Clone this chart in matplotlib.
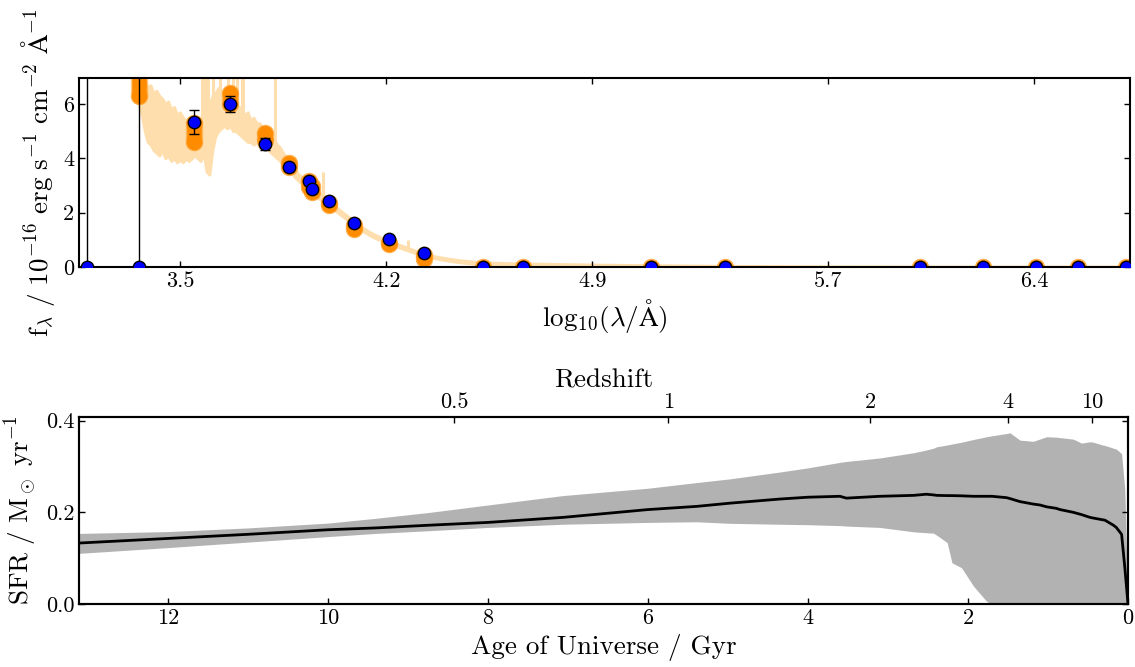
import numpy as np
import matplotlib
matplotlib.use("Agg")
import matplotlib.pyplot as plt

plt.rcParams["font.family"] = "serif"
plt.rcParams["font.serif"] = ["cmr10", "DejaVu Serif"]
plt.rcParams["mathtext.fontset"] = "cm"
plt.rcParams["axes.unicode_minus"] = False
plt.rcParams["axes.formatter.use_mathtext"] = True
plt.rcParams["axes.linewidth"] = 1.5

# ---------------- photometry (log10 wavelength, flux, error) ----------------
phot_logwav = [3.185, 3.360, 3.549, 3.670, 3.789, 3.871, 3.939, 3.949, 4.005, 4.092,
               4.211, 4.330, 4.528, 4.664, 5.101, 5.350, 6.013, 6.226, 6.406, 6.549, 6.712]
phot_flux = [0.0, 0.0, 5.33, 6.01, 4.53, 3.69, 3.18, 2.87, 2.43, 1.62,
             1.02, 0.52, 0.0, 0.0, 0.0, 0.0, 0.0, 0.0, 0.0, 0.0, 0.0]
phot_err = [100.0, 100.0, 0.44, 0.30, 0.23, 0.15, 0.10, 0.15, 0.08, 0.06,
            0.04, 0.03, 0.0, 0.0, 0.0, 0.0, 0.0, 0.0, 0.0, 0.0, 0.0]

# posterior model photometry range per band (first band off the plot)
model_logwav = phot_logwav[1:]
model_lo = [6.3, 4.6, 6.0, 4.66, 3.68, 2.95, 2.78, 2.27, 1.41, 0.85, 0.30, 0.0, 0.0,
            0.0, 0.0, 0.0, 0.0, 0.0, 0.0, 0.0]
model_hi = [8.5, 5.3, 6.41, 4.94, 3.83, 3.16, 3.0, 2.36, 1.56, 0.89, 0.45, 0.0, 0.0,
            0.0, 0.0, 0.0, 0.0, 0.0, 0.0, 0.0]

# posterior spectrum band
spec_logwav = [3.35, 3.37, 3.38, 3.39, 3.40, 3.41, 3.42, 3.43, 3.44, 3.45, 3.46, 3.47,
               3.48, 3.49, 3.50, 3.51, 3.52, 3.53, 3.54, 3.55, 3.56, 3.57, 3.58, 3.59,
               3.60, 3.61, 3.62, 3.63, 3.64, 3.65, 3.66, 3.67, 3.68, 3.69, 3.70, 3.71,
               3.72, 3.73, 3.74, 3.75, 3.76, 3.77, 3.78, 3.79, 3.80, 3.81, 3.82, 3.83,
               3.84, 3.85, 3.86, 3.87, 3.88, 3.89, 3.90, 3.92, 3.94, 3.96, 3.98, 4.00,
               4.03, 4.06, 4.09, 4.12, 4.15, 4.18, 4.21, 4.24, 4.27, 4.30, 4.33, 4.36,
               4.40, 4.45, 4.50, 4.55, 4.60, 4.70, 4.80, 5.0, 5.3, 5.6, 6.0, 6.4, 6.72]
spec_hi = [7.8, 7.2, 6.9, 6.6, 6.7, 6.4, 6.5, 6.3, 6.2, 6.0, 6.1, 5.8,
           5.9, 5.6, 5.7, 5.5, 5.4, 5.5, 5.2, 5.4, 5.5, 5.3, 5.9, 5.2,
           6.0, 6.3, 6.4, 6.6, 6.5, 6.3, 6.2, 6.3, 6.1, 6.0, 5.9, 5.8,
           5.6, 5.7, 5.4, 5.5, 5.3, 5.3, 5.1, 5.0, 4.9, 4.8, 4.7, 4.5,
           4.4, 4.2, 4.05, 3.9, 3.75, 3.6, 3.45, 3.25, 3.05, 2.85, 2.65, 2.5,
           2.2, 1.95, 1.7, 1.45, 1.25, 1.1, 0.96, 0.84, 0.72, 0.6, 0.49, 0.41,
           0.33, 0.25, 0.2, 0.17, 0.15, 0.13, 0.11, 0.08, 0.05, 0.03, 0.02, 0.02, 0.02]
spec_lo = [6.4, 5.6, 5.0, 4.6, 4.5, 4.3, 4.2, 4.1, 4.3, 4.0, 4.1, 3.9,
           4.0, 3.85, 3.95, 3.85, 4.0, 3.9, 4.0, 4.1, 4.0, 3.9, 4.2, 3.5,
           3.4, 4.3, 4.8, 5.0, 5.1, 5.2, 5.1, 5.2, 5.0, 5.0, 4.9, 4.8,
           4.7, 4.6, 4.6, 4.5, 4.6, 4.4, 4.5, 4.4, 4.3, 4.2, 4.1, 4.0,
           3.9, 3.75, 3.65, 3.55, 3.45, 3.3, 3.2, 3.0, 2.8, 2.62, 2.45, 2.3,
           2.05, 1.8, 1.55, 1.32, 1.13, 0.98, 0.86, 0.73, 0.62, 0.51, 0.41, 0.33,
           0.25, 0.17, 0.11, 0.09, 0.07, 0.05, 0.04, 0.02, 0.01, 0.0, 0.0, 0.0, 0.0]

# emission line spikes in the spectrum
spike_logwav = [3.574, 3.585, 3.596, 3.613, 3.636, 3.664, 3.681, 3.692, 3.709, 3.715,
                3.823, 3.987, 4.275]
spike_base = [5.0, 4.0, 4.5, 5.5, 5.5, 6.0, 5.8, 5.5, 5.3, 5.3, 4.2, 2.6, 0.65]
spike_top = [8.0, 8.0, 8.0, 8.0, 8.0, 8.0, 8.0, 8.0, 8.0, 8.0, 8.0, 3.5, 1.0]

wav_ticks = [3.5, 4.2, 4.9, 5.7, 6.4]

# ---------------- star formation history ----------------
sfh_age = [13.11, 12.0, 11.0, 10.0, 9.4, 8.725, 8.0, 7.06, 6.0, 5.39, 4.975, 4.35,
           4.0, 3.6, 3.52, 3.1, 2.68, 2.52, 2.43, 2.39, 2.26, 2.2, 2.08, 1.93,
           1.767, 1.7, 1.517, 1.475, 1.35, 1.183, 1.1, 1.017, 0.896, 0.85, 0.683,
           0.58, 0.475, 0.433, 0.31, 0.29, 0.183, 0.146, 0.08, 0.04, 0.0]
sfh_med = [0.133, 0.143, 0.152, 0.162, 0.166, 0.172, 0.178, 0.189, 0.206, 0.213, 0.220, 0.229,
           0.233, 0.235, 0.231, 0.235, 0.237, 0.2395, 0.238, 0.237, 0.2365, 0.2365, 0.236, 0.235,
           0.235, 0.235, 0.232, 0.230, 0.2234, 0.218, 0.216, 0.212, 0.2087, 0.206, 0.200,
           0.195, 0.189, 0.1875, 0.1835, 0.183, 0.172, 0.167, 0.152, 0.08, 0.0]
sfh_hi = [0.154, 0.158, 0.166, 0.1765, 0.187, 0.200, 0.216, 0.2366, 0.2526, 0.265, 0.273, 0.288,
          0.297, 0.309, 0.311, 0.3186, 0.330, 0.336, 0.340, 0.343, 0.347, 0.349, 0.353, 0.359,
          0.365, 0.367, 0.372, 0.3735, 0.3575, 0.355, 0.36, 0.365, 0.364, 0.363, 0.3597,
          0.351, 0.354, 0.353, 0.3465, 0.346, 0.340, 0.338, 0.328, 0.25, 0.0]
sfh_lo = [0.1105, 0.123, 0.135, 0.147, 0.154, 0.160, 0.167, 0.174, 0.178, 0.1794, 0.176, 0.174,
          0.173, 0.171, 0.170, 0.167, 0.1575, 0.1555, 0.1545, 0.150, 0.134, 0.090, 0.079, 0.0388,
          0.0058, 0.0, 0.0, 0.0, 0.0, 0.0, 0.0, 0.0, 0.0, 0.0, 0.0,
          0.0, 0.0, 0.0, 0.0, 0.0, 0.0, 0.0, 0.0, 0.0, 0.0]

z_ticks = ["0.5", "1", "2", "4", "10"]
z_tick_ages = [8.42, 5.746, 3.225, 1.504, 0.454]
age_ticks = [12, 10, 8, 6, 4, 2, 0]

fig = plt.figure(figsize=(11.35, 6.67), dpi=100)
ax1 = fig.add_axes([79/1135, 1 - 267/667, 1051/1135, 189/667])
ax2 = fig.add_axes([79/1135, 1 - 604/667, 1049/1135, 187/667])

tick_fs = 16
label_fs = 19.5

# ---- top panel ----
ax1.fill_between(spec_logwav, spec_lo, spec_hi, color="navajowhite", lw=2.0,
                 edgecolor="navajowhite", zorder=1)
ax1.vlines(spike_logwav, spike_base, spike_top, color="navajowhite", lw=2.2, zorder=1)

for x, lo, hi in zip(model_logwav, model_lo, model_hi):
    ax1.plot([x, x], [lo, hi], color="darkorange", lw=12.5, alpha=0.45,
             solid_capstyle="round", marker="o", ms=12.5, mew=0, zorder=2)
    ax1.plot([x, x], [lo, hi], color="darkorange", lw=10.5,
             solid_capstyle="round", marker="o", ms=10.5, mew=0, zorder=2)

ax1.errorbar(phot_logwav, phot_flux, yerr=phot_err, lw=1, linestyle=" ",
             capsize=3.5, capthick=1, color="black", zorder=3)
ax1.scatter(phot_logwav, phot_flux, s=80, facecolor="blue", edgecolor="black",
            linewidth=1, zorder=4)

ax1.set_xlim(3.157, 6.726)
ax1.set_ylim(0, 6.96)
ax1.set_xticks(wav_ticks)
ax1.set_xticklabels([str(t) for t in wav_ticks])
ax1.set_yticks([0, 2, 4, 6])
ax1.set_yticklabels(["0", "2", "4", "6"])
ax1.tick_params(direction="in", top=True, right=True, labelsize=tick_fs,
                length=4, width=1)
ax1.set_xlabel(r"$\mathrm{log_{10}}(\lambda / \mathrm{\AA})$", fontsize=label_fs)
ax1.set_ylabel(r"$\mathrm{f_{\lambda}\ /\ 10^{-16}\ erg\ s^{-1}\ cm^{-2}\ \AA^{-1}}$",
               fontsize=label_fs)

# ---- bottom panel ----
ax2.fill_between(sfh_age, sfh_lo, sfh_hi, color="gray", alpha=0.6, lw=0, zorder=1)
ax2.plot(sfh_age, sfh_med, color="black", lw=2, zorder=2)
ax2.set_xlim(13.11, 0)
ax2.set_ylim(0, 0.408)
ax2.set_xticks(age_ticks)
ax2.set_xticklabels([str(t) for t in age_ticks])
ax2.set_yticks([0.0, 0.2, 0.4])
ax2.set_yticklabels(["0.0", "0.2", "0.4"])
ax2.tick_params(direction="in", right=True, labelsize=tick_fs, length=4, width=1)
ax2.set_xlabel("Age of Universe / Gyr", fontsize=label_fs)
ax2.set_ylabel(r"$\mathrm{SFR\ /\ M_\odot\ yr^{-1}}$", fontsize=label_fs)

axz = ax2.twiny()
axz.set_xlim(ax2.get_xlim())
axz.set_xticks(z_tick_ages)
axz.set_xticklabels(z_ticks)
axz.tick_params(direction="in", labelsize=tick_fs, length=4, width=1)
axz.set_xlabel("Redshift", fontsize=label_fs)

fig.savefig("out.png", dpi=100)
